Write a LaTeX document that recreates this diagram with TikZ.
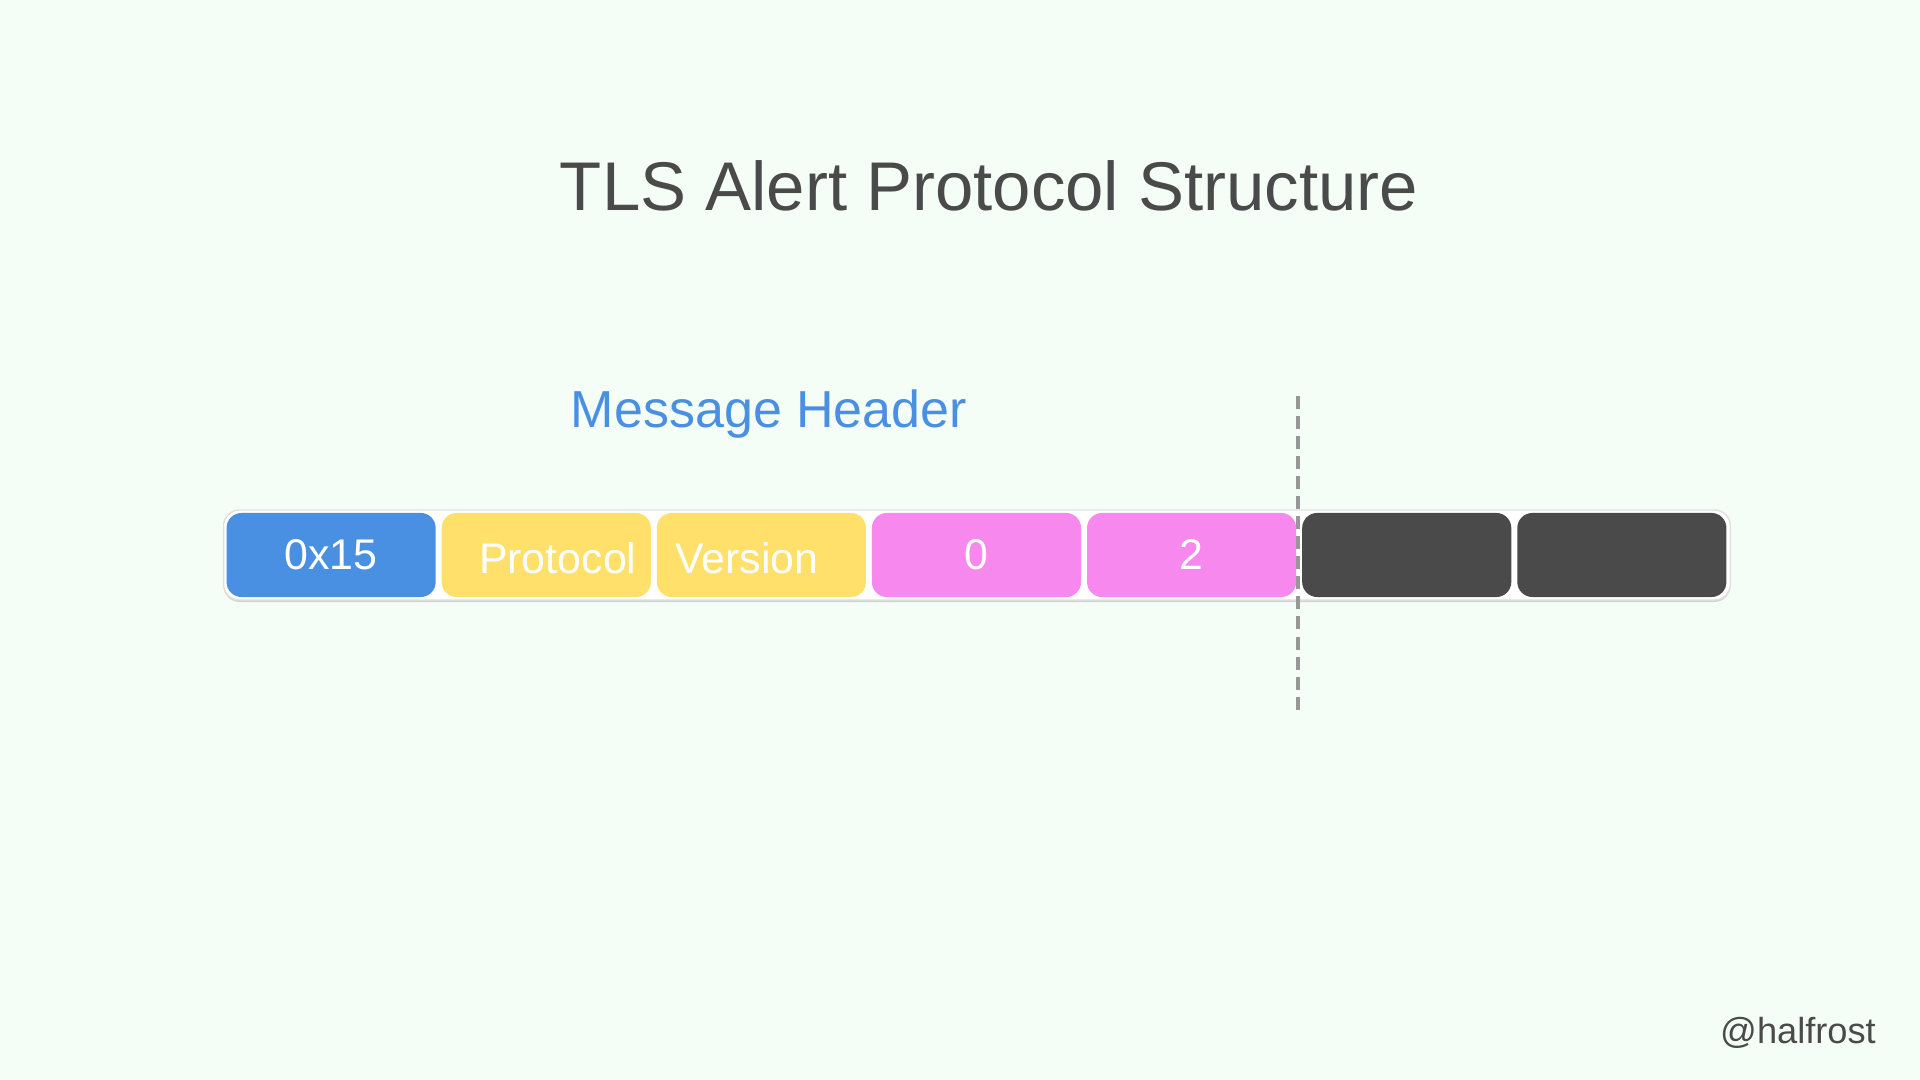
\documentclass[tikz,border=0pt]{standalone}
\usepackage{fontspec}
\setmainfont{Liberation Sans}
\usepackage{tikz}
\usetikzlibrary{positioning,shadows}

\definecolor{bgMint}{HTML}{F4FEF6}
\definecolor{inkGray}{HTML}{4A4A4A}
\definecolor{hdrBlue}{HTML}{4A90E2}
\definecolor{verYellow}{HTML}{FEE06B}
\definecolor{lenPink}{HTML}{F788EE}
\definecolor{cutGray}{HTML}{979797}

\begin{document}
\begin{tikzpicture}[
    x=0.01cm, y=-0.01cm,
    % Styles
    barBox/.style={draw=black!12, fill=white, rounded corners=0.16cm, minimum width=15.06cm, minimum height=0.9cm, inner sep=0pt, outer sep=0pt,
        drop shadow={shadow xshift=0cm, shadow yshift=-0.02cm, fill=black!40, opacity=0.4}},
    cellBox/.style={rounded corners=0.15cm, minimum width=2.09cm, minimum height=0.84cm, inner sep=0pt, outer sep=0pt,
        text=white, font=\fontsize{12.2}{14}\selectfont},
    cellText/.style={text=white, font=\fontsize{12.2}{14}\selectfont, inner sep=0pt},
    cutLine/.style={cutGray, line width=0.95pt, dash pattern=on 3.7pt off 2pt}
]

% ================= BACKGROUND =================
\fill[bgMint] (0,0) rectangle (1920,1080);
\useasboundingbox (0,0) rectangle (1920,1080);

% ================= TITLES =================
\node[anchor=base, text=inkGray, font=\fontsize{19.6}{24}\selectfont] (title) at (989,211) {TLS Alert Protocol Structure};
\node[anchor=base, text=hdrBlue, font=\fontsize{14.8}{18}\selectfont] (hdr) at (769,428) {Message Header};

% ================= RECORD BAR =================
\node[barBox] (bar) at (977,555) {};

\node[cellBox, fill=hdrBlue, right=0.03cm of bar.west] (ctype) {0x15};
\node[cellBox, fill=verYellow, right=0.06cm of ctype] (proto) {};
\node[cellBox, fill=verYellow, right=0.06cm of proto] (vers) {};
\node[cellBox, fill=lenPink, right=0.06cm of vers] (lenHi) {0};
\node[cellBox, fill=lenPink, right=0.06cm of lenHi] (lenLo) {2};
\node[cellBox, fill=inkGray, right=0.06cm of lenLo] (level) {};
\node[cellBox, fill=inkGray, right=0.06cm of level] (desc) {};

% "Protocol Version" sits a bit off centre
\node[cellText] (protoTxt) at ([xshift=0.115cm, yshift=-0.03cm]proto.center) {Protocol};
\node[cellText] (versTxt) at ([xshift=-0.145cm, yshift=-0.03cm]vers.center) {Version};

% ================= HEADER CUT =================
\coordinate (cutTop) at (1298,396);
\coordinate (cutBot) at (1298,710);
\draw[cutLine] (cutTop) -- (cutBot);

% ================= SIGNATURE =================
\node[anchor=base, text=inkGray, font=\fontsize{10.3}{12}\selectfont] (sig) at (1798,1044) {@halfrost};

\end{tikzpicture}
\end{document}
